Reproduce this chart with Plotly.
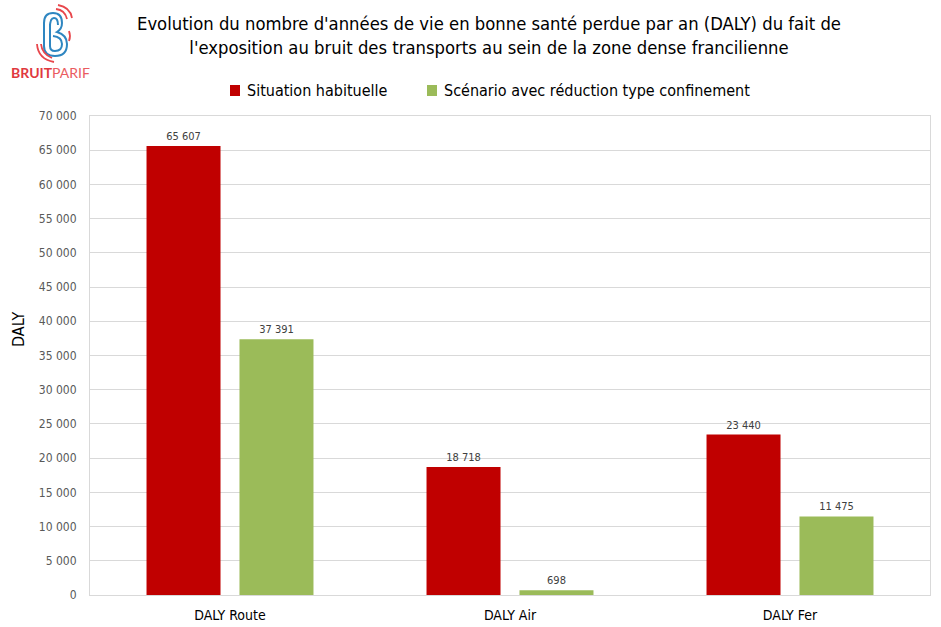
import plotly.graph_objects as go

categories = ["DALY Route", "DALY Air", "DALY Fer"]
situation_habituelle = [65607, 18718, 23440]
scenario_confinement = [37391, 698, 11475]
series_names = ["Situation habituelle", "Scénario avec réduction type confinement"]
y_ticks = list(range(0, 70001, 5000))

W, H = 941, 627
L, R, T, B = 90, 11, 116, 32
PW, PH = W - L - R, H - T - B

def px(x, y):
    return f"{(x - L) / PW:.5f},{(H - B - y) / PH:.5f}"

def pxx(x):
    return (x - L) / PW

def pxy(y):
    return (H - B - y) / PH

FONT = "Liberation Sans Narrow, DejaVu Sans Condensed, Arial Narrow, sans-serif"
RED = "#c00000"
GREEN = "#9bbb59"
colors = [RED, GREEN]

fig = go.Figure()
for name, vals, col in zip(series_names, [situation_habituelle, scenario_confinement], colors):
    fig.add_trace(go.Bar(
        name=name, x=categories, y=vals,
        marker=dict(color=col, line=dict(width=0)),
        texttemplate="%{y:,}", textposition="outside",
        textfont=dict(size=11, color="#404040", family=FONT), cliponaxis=False,
        showlegend=False,
    ))

shapes = []
blue = "#2e86c1"
lred = "#e8474c"
paths_blue = [
    f"M{px(44,46)} L{px(44,23)} Q{px(44,13)} {px(53,13)} Q{px(62,13)} {px(62,23)} Q{px(62,29)} {px(57,32)} Q{px(67,35)} {px(67,44)} Q{px(67,56)} {px(55,56)} Q{px(44,56)} {px(44,46)}",
    f"M{px(50,24)} L{px(50,46)} Q{px(50,51)} {px(55,51)} Q{px(62,51)} {px(62,44)} Q{px(62,37)} {px(53,36)}",
    f"M{px(50,27)} Q{px(50,18)} {px(54,18)} Q{px(58,18)} {px(58,25)}",
]
paths_red = [
    f"M{px(56,9)} Q{px(65,10)} {px(67,19)}",
    f"M{px(58,5)} Q{px(70,7)} {px(72,18)}",
    f"M{px(69,31)} Q{px(71,36)} {px(69,41)}",
    f"M{px(41,44)} Q{px(42,54)} {px(52,58)}",
    f"M{px(37,44)} Q{px(38,59)} {px(54,62)}",
]
for p in paths_blue:
    shapes.append(dict(type="path", xref="paper", yref="paper", path=p,
                       line=dict(color=blue, width=2)))
for p in paths_red:
    shapes.append(dict(type="path", xref="paper", yref="paper", path=p,
                       line=dict(color=lred, width=1.8)))

# legend (drawn manually for exact spacing)
legend_sq_x = [230, 427]
legend_txt_x = [245, 442]
for sx, col in zip(legend_sq_x, colors):
    shapes.append(dict(type="rect", xref="paper", yref="paper",
                       x0=pxx(sx), x1=pxx(sx + 10), y0=pxy(96), y1=pxy(85),
                       fillcolor=col, line=dict(width=0)))

annotations = [
    dict(text="Evolution du nombre d'années de vie en bonne santé perdue par an (DALY) du fait de<br>l'exposition au bruit des transports au sein de la zone dense francilienne",
         x=pxx(489), y=pxy(35), xref="paper", yref="paper", showarrow=False,
         xanchor="center", yanchor="middle", align="center",
         font=dict(size=18.3, color="#000000", family=FONT)),
    dict(text="DALY", x=pxx(18), y=pxy(329), xref="paper", yref="paper", showarrow=False,
         textangle=-90, xanchor="center", yanchor="middle",
         font=dict(size=16, color="#000000", family=FONT)),
    dict(text="<b>BRUIT</b><span style='color:#ea5b60'>PARIF</span>", x=pxx(50), y=pxy(72.5),
         xref="paper", yref="paper", showarrow=False, xanchor="center", yanchor="middle",
         font=dict(size=14, color="#e0393e", family="Lato, Open Sans, sans-serif")),
]
for tx, name in zip(legend_txt_x, series_names):
    annotations.append(dict(text=name, x=pxx(tx), y=pxy(90.5), xref="paper", yref="paper",
                            showarrow=False, xanchor="left", yanchor="middle",
                            font=dict(size=16, color="#000000", family=FONT)))

fig.update_layout(
    width=W, height=H,
    margin=dict(l=L, r=R, t=T, b=B, pad=0, autoexpand=False),
    paper_bgcolor="white", plot_bgcolor="white",
    separators=", ",
    barmode="group", bargap=0.336, bargroupgap=0.204,
    font=dict(family=FONT, color="#000000"),
    showlegend=False,
    shapes=shapes,
    annotations=annotations,
)
fig.update_yaxes(range=[0, 70000], tickvals=y_ticks, tickformat=",d", automargin=False,
                 showgrid=True, gridcolor="#d9d9d9", gridwidth=1,
                 showline=True, mirror=True, linecolor="#d9d9d9", linewidth=1,
                 zeroline=False, ticks="", ticklabelstandoff=10,
                 tickfont=dict(size=12, color="#595959", family=FONT))
fig.update_xaxes(showline=True, mirror=True, linecolor="#d9d9d9", linewidth=1,
                 ticks="", ticklabelstandoff=7, automargin=False,
                 tickfont=dict(size=14, color="#000000", family=FONT))

fig.write_html("out.html", config={"displayModeBar": False},
               post_script="document.body.style.margin='0';document.body.style.overflow='hidden';")
